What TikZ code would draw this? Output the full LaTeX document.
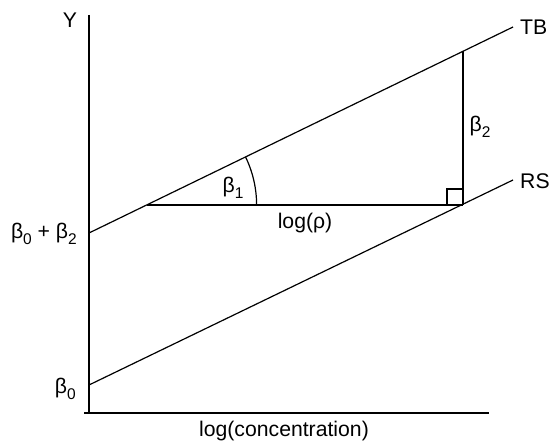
\documentclass[tikz,border=0pt]{standalone}
\usepackage{fontspec}
\setmainfont{Liberation Sans}
\newcommand{\mysub}[1]{\raisebox{-0.28em}{\fontsize{15.5}{15.5}\selectfont #1}}
\begin{document}
\begin{tikzpicture}[x=1pt,y=1pt,
  axis/.style={line width=2.3pt},
  thin/.style={line width=1.2pt},
  lbl/.style={inner sep=0pt,font=\fontsize{21.2}{25}\selectfont}]
\useasboundingbox (0,0) rectangle (549,444);
% coordinates
\coordinate (ytop) at (89,429);
\coordinate (orig) at (89,31);
\coordinate (xl) at (84,31);
\coordinate (xr) at (489,31);
\coordinate (tb0) at (89,211);
\coordinate (tb1) at (513,417);
\coordinate (rs0) at (89,59);
\coordinate (rs1) at (513,264);
\coordinate (apex) at (146.6,239);
\coordinate (corner) at (463,239);
\coordinate (top) at (463,392.7);
\coordinate (sq1) at (447,239);
\coordinate (sq2) at (447,255);
\coordinate (sq3) at (463,255);
\coordinate (arcstart) at (256.6,239);
% axes
\draw[axis] (ytop) -- (orig);
\draw[axis] (xl) -- (xr);
% lines
\draw[thin] (tb0) -- (tb1);
\draw[thin] (rs0) -- (rs1);
\draw[thin] (apex) -- (corner);
\draw[thin] (corner) -- (top);
\draw[thin] (sq1) -- (sq2) -- (sq3);
\draw[thin] (arcstart) arc[start angle=0,end angle=25.9,radius=110];
% labels
\node[lbl] (ylab) at (70,424) {Y};
\node[lbl,anchor=west] (tblab) at (520,417) {TB};
\node[lbl,anchor=west] (rslab) at (520,263) {RS};
\node[lbl] (b2lab) at (480,317) {β\mysub{2}};
\node[lbl] (b1lab) at (233,256) {β\mysub{1}};
\node[lbl] (rholab) at (305,221) {log(ρ)};
\node[lbl,anchor=east] (b02lab) at (77,210) {β\mysub{0} + β\mysub{2}};
\node[lbl,anchor=east] (b0lab) at (76,55) {β\mysub{0}};
\node[lbl] (xlab) at (284,13) {log(concentration)};
\end{tikzpicture}
\end{document}
